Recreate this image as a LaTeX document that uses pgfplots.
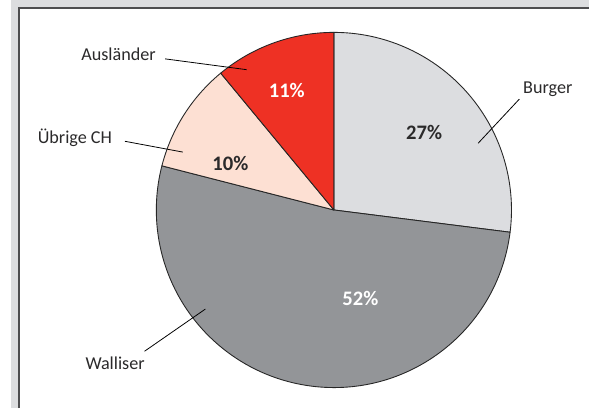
\documentclass[border=0pt]{standalone}
\usepackage{fontspec}
\setmainfont{Carlito}
\usepackage{pgfplots}
\usepackage{pgfplotstable}
\pgfplotsset{compat=1.18}

\definecolor{frameband}{HTML}{DCDDDF}
\definecolor{frameline}{HTML}{4D4D4F}
\definecolor{cburger}{HTML}{DCDDE0}
\definecolor{cwalliser}{HTML}{939598}
\definecolor{cuebrige}{HTML}{FDE0D3}
\definecolor{causl}{HTML}{EE3124}
\definecolor{txt}{HTML}{2B2A2B}

% share of residents, percent (clockwise from 12 o'clock)
\pgfplotstableread{
label value
Burger 27
Walliser 52
UebrigeCH 10
Auslaender 11
}\piedata

\begin{document}
\pgfplotstablegetelem{0}{value}\of\piedata \let\vA\pgfplotsretval
\pgfplotstablegetelem{1}{value}\of\piedata \let\vB\pgfplotsretval
\pgfplotstablegetelem{2}{value}\of\piedata \let\vC\pgfplotsretval
\pgfplotstablegetelem{3}{value}\of\piedata \let\vD\pgfplotsretval
\pgfmathsetmacro\aA{90}
\pgfmathsetmacro\aB{\aA-3.6*\vA}
\pgfmathsetmacro\aC{\aB-3.6*\vB}
\pgfmathsetmacro\aD{\aC-3.6*\vC}
\pgfmathsetmacro\aE{\aD-3.6*\vD}
\begin{tikzpicture}
\begin{axis}[
    scale only axis,
    width=589pt, height=416pt,
    xmin=0, xmax=589, ymin=0, ymax=416,
    hide axis, clip=false,
]
\coordinate (sw) at (axis cs:0,0);
\coordinate (ne) at (axis cs:589,416);
% frame
\fill[frameband] (axis cs:0,0) rectangle (axis cs:589,416);
\fill[white] (axis cs:8,0) rectangle (axis cs:589,408);
\draw[frameline, line width=1.6pt] (axis cs:8,0) -- (axis cs:8,408) -- (axis cs:589,408);
% slices
\tikzset{slice/.style={draw=black!85, line width=0.9pt, line join=round}}
\fill[cburger, slice] (axis cs:329,202) -- ++(\aA:181pt) arc[start angle=\aA, end angle=\aB, radius=181pt] -- cycle;
\fill[cwalliser, slice] (axis cs:329,202) -- ++(\aB:181pt) arc[start angle=\aB, end angle=\aC, radius=181pt] -- cycle;
\fill[cuebrige, slice] (axis cs:329,202) -- ++(\aC:181pt) arc[start angle=\aC, end angle=\aD, radius=181pt] -- cycle;
\fill[causl, slice] (axis cs:329,202) -- ++(\aD:181pt) arc[start angle=\aD, end angle=\aE, radius=181pt] -- cycle;
% percentages
\tikzset{pct/.style={font=\fontsize{21}{24}\selectfont\bfseries, inner sep=0pt}}
\node[pct, txt] at (axis cs:421,281) {\vA\%};
\node[pct, white] at (axis cs:356,112) {\vB\%};
\node[pct, txt] at (axis cs:223.5,249) {\vC\%};
\node[pct, white] at (axis cs:281,324) {\vD\%};
% category labels with leader lines
\tikzset{lab/.style={font=\fontsize{18.5}{21}\selectfont, text=txt, inner sep=0pt}}
\node[lab] at (axis cs:547,325) {Burger};
\draw[black, line width=0.8pt] (axis cs:518,315) -- (axis cs:476,270);
\node[lab] at (axis cs:106,46) {Walliser};
\draw[black, line width=0.8pt] (axis cs:136,58) -- (axis cs:198,101);
\node[lab] at (axis cs:65,276) {Übrige CH};
\draw[black, line width=0.8pt] (axis cs:116,272) -- (axis cs:175,261);
\node[lab] at (axis cs:109.5,361) {Ausländer};
\draw[black, line width=0.8pt] (axis cs:157,356) -- (axis cs:240,345);
\end{axis}
\pgfresetboundingbox
\useasboundingbox (sw) rectangle (ne);
\end{tikzpicture}
\end{document}
